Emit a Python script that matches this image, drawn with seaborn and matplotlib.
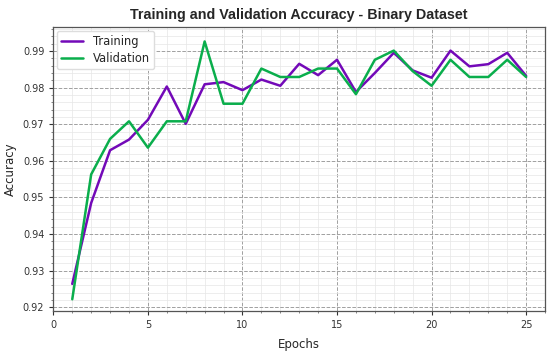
import numpy as np
import pandas as pd
import seaborn as sns
import matplotlib.pyplot as plt
from matplotlib.ticker import MultipleLocator, AutoMinorLocator

# ---------- data ----------
epochs = list(range(1, 26))
train_acc = [0.9264, 0.9485, 0.9629, 0.9658, 0.9712, 0.9803, 0.9701, 0.9809, 0.9815, 0.9793,
             0.9822, 0.9805, 0.9865, 0.9834, 0.9876, 0.9788, 0.9840, 0.9895, 0.9847, 0.9827,
             0.9901, 0.9858, 0.9864, 0.9895, 0.9832]
val_acc = [0.9222, 0.9563, 0.9660, 0.9708, 0.9636, 0.9708, 0.9708, 0.9926, 0.9756, 0.9756,
           0.9852, 0.9829, 0.9829, 0.9852, 0.9852, 0.9782, 0.9876, 0.9901, 0.9845, 0.9805,
           0.9876, 0.9829, 0.9829, 0.9876, 0.9829]

df = pd.DataFrame({
    'Epoch': epochs * 2,
    'Accuracy': train_acc + val_acc,
    'Set': ['Training'] * len(epochs) + ['Validation'] * len(epochs),
})

sns.set_style('white')
plt.rcParams['font.family'] = ['DejaVu Sans']

fig, ax = plt.subplots(figsize=(5.5, 3.53), dpi=100)
sns.lineplot(data=df, x='Epoch', y='Accuracy', hue='Set',
             palette={'Training': '#7309b8', 'Validation': '#0aae4c'},
             linewidth=1.8, ax=ax)

ax.set_xlim(0, 26)
ax.set_ylim(0.919, 0.9965)
ax.xaxis.set_major_locator(MultipleLocator(5))
ax.yaxis.set_major_locator(MultipleLocator(0.01))
ax.xaxis.set_minor_locator(AutoMinorLocator(5))
ax.yaxis.set_minor_locator(AutoMinorLocator(5))
ax.grid(which='major', color='#a0a0a0', linestyle='--', linewidth=0.7)
ax.grid(which='minor', color='#e6e6e6', linestyle='-', linewidth=0.5)
ax.tick_params(which='major', direction='out', length=3, width=0.8, labelsize=7, colors='#333333')
ax.tick_params(which='minor', direction='out', length=1.5, width=0.5, colors='#555555')
ax.tick_params(axis='x', which='both', bottom=True)
ax.tick_params(axis='y', which='both', left=True)
for s in ax.spines.values():
    s.set_color('#555555')
    s.set_linewidth(0.9)

ax.set_xlabel('Epochs', fontsize=8.5, labelpad=6)
ax.set_ylabel('Accuracy', fontsize=8.5, labelpad=4)
ax.set_title('Training and Validation Accuracy - Binary Dataset', fontsize=10.3,
             fontweight='bold', family=['Liberation Sans', 'DejaVu Sans'], pad=6)

leg = ax.legend(loc='upper left', fontsize=8.3, frameon=True, handlelength=1.9,
                borderaxespad=0.3, labelspacing=0.3)
leg.get_frame().set_edgecolor('#dddddd')
leg.get_frame().set_alpha(1.0)

fig.subplots_adjust(left=0.097, right=0.991, top=0.923, bottom=0.119)
fig.savefig('out.png', dpi=100)
